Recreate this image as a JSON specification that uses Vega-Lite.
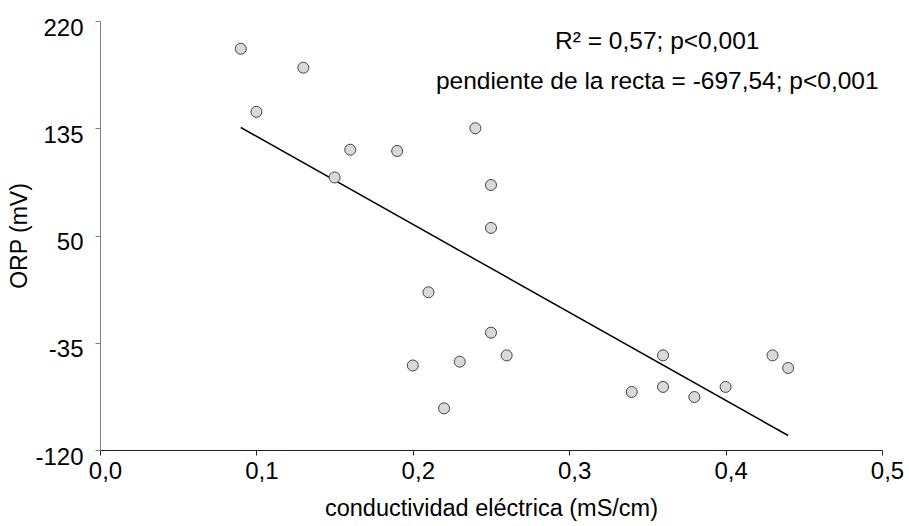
{
  "$schema": "https://vega.github.io/schema/vega-lite/v6.json",
  "width": 782,
  "height": 429,
  "autosize": "none",
  "padding": {"left": 100, "top": 21, "right": 27, "bottom": 76},
  "background": "white",
  "config": {
    "view": {"stroke": null},
    "font": "Liberation Sans"
  },
  "datasets": {
    "pts": [
      {"ce": 0.09, "orp": 198}, {"ce": 0.13, "orp": 183}, {"ce": 0.10, "orp": 148},
      {"ce": 0.16, "orp": 118}, {"ce": 0.15, "orp": 96}, {"ce": 0.19, "orp": 117},
      {"ce": 0.24, "orp": 135}, {"ce": 0.25, "orp": 90}, {"ce": 0.25, "orp": 56},
      {"ce": 0.21, "orp": 5}, {"ce": 0.25, "orp": -27}, {"ce": 0.26, "orp": -45},
      {"ce": 0.23, "orp": -50}, {"ce": 0.20, "orp": -53}, {"ce": 0.22, "orp": -87},
      {"ce": 0.36, "orp": -45}, {"ce": 0.43, "orp": -45}, {"ce": 0.44, "orp": -55},
      {"ce": 0.34, "orp": -74}, {"ce": 0.36, "orp": -70}, {"ce": 0.38, "orp": -78},
      {"ce": 0.40, "orp": -70}
    ],
    "fit": [{"ce": 0.09, "orp": 135.6}, {"ce": 0.44, "orp": -108.5}],
    "notes": [
      {"ce": 0.3563, "orp": 203, "label": "R² = 0,57; p<0,001"},
      {"ce": 0.3563, "orp": 171.4, "label": "pendiente de la recta = -697,54; p<0,001"}
    ]
  },
  "layer": [
    {
      "data": {"name": "fit"},
      "mark": {"type": "line", "color": "black", "strokeWidth": 1.5},
      "encoding": {
        "x": {"field": "ce", "type": "quantitative",
          "scale": {"domain": [0, 0.5], "nice": false, "zero": false},
          "axis": {
            "title": "conductividad eléctrica (mS/cm)",
            "values": [0, 0.1, 0.2, 0.3, 0.4, 0.5],
            "labelExpr": "replace(format(datum.value, '.1f'), '.', ',')",
            "grid": false,
            "domainColor": "#222222",
            "tickColor": "#222222",
            "tickSize": 5,
            "labelFontSize": 24,
            "labelColor": "black",
            "labelPadding": 4,
            "labelOffset": 5,
            "labelFlush": false,
            "titleFontSize": 23.5,
            "titleFontWeight": "normal",
            "titleColor": "black",
            "titlePadding": 13
          }
        },
        "y": {"field": "orp", "type": "quantitative",
          "scale": {"domain": [-120, 220], "nice": false, "zero": false},
          "axis": {
            "title": "ORP (mV)",
            "values": [-120, -35, 50, 135, 220],
            "labelExpr": "datum.value < 0 ? '-' + abs(datum.value) : '' + datum.value",
            "grid": false,
            "domainColor": "#808080",
            "tickColor": "#808080",
            "tickSize": 5,
            "labelFontSize": 24,
            "labelColor": "black",
            "labelPadding": 12,
            "labelOffset": 7,
            "labelFlush": false,
            "titleFontSize": 23,
            "titleFontWeight": "normal",
            "titleColor": "black",
            "titlePadding": 3
          }
        }
      }
    },
    {
      "data": {"name": "pts"},
      "mark": {"type": "point", "shape": "circle", "filled": true, "fill": "#d9d9d9", "stroke": "#444444", "strokeWidth": 1, "size": 121, "opacity": 1},
      "encoding": {
        "x": {"field": "ce", "type": "quantitative"},
        "y": {"field": "orp", "type": "quantitative"}
      }
    },
    {
      "data": {"name": "notes"},
      "mark": {"type": "text", "fontSize": 24.5, "color": "black", "align": "center", "baseline": "middle"},
      "encoding": {
        "x": {"field": "ce", "type": "quantitative"},
        "y": {"field": "orp", "type": "quantitative"},
        "text": {"field": "label"}
      }
    }
  ]
}
